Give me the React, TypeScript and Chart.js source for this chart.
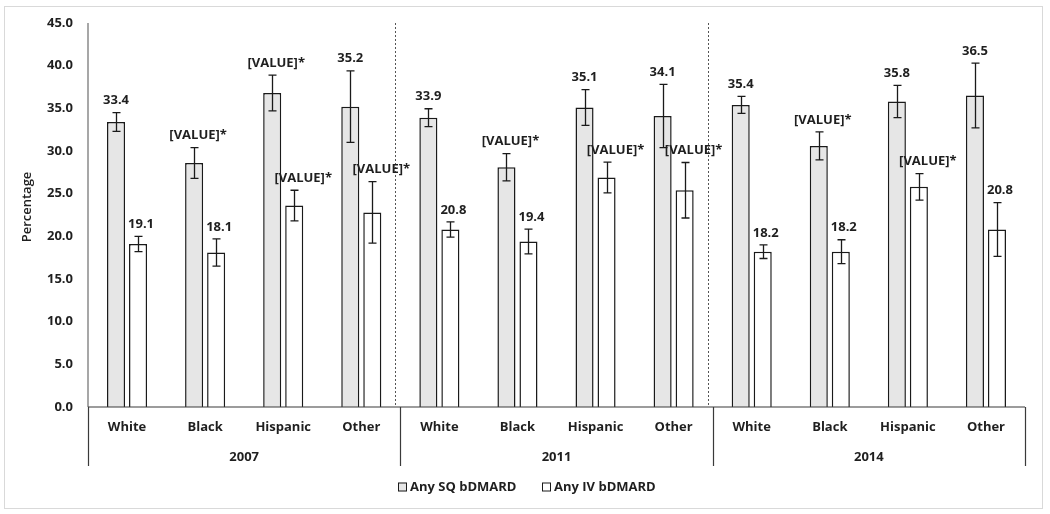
import React, { useEffect, useRef } from "react";
import { Chart, registerables } from "chart.js";
Chart.register(...registerables);

const years = ["2007", "2011", "2014"];
const groups = ["White", "Black", "Hispanic", "Other"];
const categories = years.flatMap((yr) => groups.map((g) => `${g} ${yr}`));

const seriesNames = ["Any SQ bDMARD", "Any IV bDMARD"];

const sqValues = [33.4, 28.6, 36.8, 35.2, 33.9, 28.1, 35.1, 34.1, 35.4, 30.6, 35.8, 36.5];
const ivValues = [19.1, 18.1, 23.6, 22.8, 20.8, 19.4, 26.9, 25.4, 18.2, 18.2, 25.8, 20.8];
const sqErrors = [1.1, 1.8, 2.1, 4.2, 1.05, 1.6, 2.1, 3.7, 1.0, 1.65, 1.9, 3.8];
const ivErrors = [0.9, 1.6, 1.8, 3.6, 0.9, 1.45, 1.8, 3.25, 0.8, 1.4, 1.55, 3.15];
const sqLabels = ["33.4", "[VALUE]*", "[VALUE]*", "35.2", "33.9", "[VALUE]*", "35.1", "34.1", "35.4", "[VALUE]*", "35.8", "36.5"];
const ivLabels = ["19.1", "18.1", "[VALUE]*", "[VALUE]*", "20.8", "19.4", "[VALUE]*", "[VALUE]*", "18.2", "18.2", "[VALUE]*", "20.8"];

const yTicks = [0, 5, 10, 15, 20, 25, 30, 35, 40, 45];
const yTitle = "Percentage";

const FONT = "'Open Sans', Lato, sans-serif";
const FSIZE = 13;
const TEXT = "#1f1f1f";
const SQ_FILL = "#e6e6e6";
const IV_FILL = "#ffffff";

const errorsBy = [sqErrors, ivErrors];
const labelsBy = [sqLabels, ivLabels];

const customPlugin = {
  id: "customDraw",
  beforeDraw(chart: any) {
    const ctx = chart.ctx;
    ctx.save();
    ctx.fillStyle = "#ffffff";
    ctx.fillRect(0, 0, chart.width, chart.height);
    ctx.strokeStyle = "#d9d9d9";
    ctx.lineWidth = 1;
    ctx.strokeRect(4.5, 6.5, 1038, 502);
    ctx.restore();
  },
  afterDatasetsDraw(chart: any) {
    const ctx = chart.ctx;
    const ca = chart.chartArea;
    const x = chart.scales.x;
    const y = chart.scales.y;
    const n = categories.length;
    const per = groups.length;
    const catW = (ca.right - ca.left) / n;
    const boundaries: number[] = [];
    for (let g = 0; g <= years.length; g++) boundaries.push(ca.left + g * per * catW);

    ctx.save();
    // dotted separators in plot
    ctx.strokeStyle = "#555555";
    ctx.lineWidth = 1;
    ctx.setLineDash([2, 2]);
    for (let g = 1; g < years.length; g++) {
      const bx = Math.round(boundaries[g] - 5) + 0.5;
      ctx.beginPath();
      ctx.moveTo(bx, ca.top);
      ctx.lineTo(bx, ca.bottom);
      ctx.stroke();
    }
    ctx.setLineDash([]);

    // error bars
    ctx.strokeStyle = "#1a1a1a";
    ctx.lineWidth = 1.3;
    chart.data.datasets.forEach((ds: any, di: number) => {
      const meta = chart.getDatasetMeta(di);
      meta.data.forEach((bar: any, i: number) => {
        const v = ds.data[i];
        const e = errorsBy[di][i];
        const yt = y.getPixelForValue(v + e);
        const yb = y.getPixelForValue(v - e);
        const bx = Math.round(bar.x) + 0.5;
        ctx.beginPath();
        ctx.moveTo(bx, yt);
        ctx.lineTo(bx, yb);
        ctx.moveTo(bx - 4, yt);
        ctx.lineTo(bx + 4, yt);
        ctx.moveTo(bx - 4, yb);
        ctx.lineTo(bx + 4, yb);
        ctx.stroke();
      });
    });

    // data labels
    ctx.fillStyle = TEXT;
    ctx.font = `bold ${FSIZE}px ${FONT}`;
    ctx.textAlign = "center";
    ctx.textBaseline = "middle";
    chart.data.datasets.forEach((ds: any, di: number) => {
      const meta = chart.getDatasetMeta(di);
      meta.data.forEach((bar: any, i: number) => {
        const v = ds.data[i];
        const e = errorsBy[di][i];
        const lbl = labelsBy[di][i];
        const isText = lbl.startsWith("[");
        const dx = di === 1 ? (isText ? 9 : 3) : isText ? 4 : 0;
        ctx.fillText(lbl, bar.x + dx, y.getPixelForValue(v + e) - 12);
      });
    });

    // axes
    ctx.strokeStyle = "#8a8a8a";
    ctx.lineWidth = 1.5;
    ctx.beginPath();
    ctx.moveTo(ca.left, ca.top);
    ctx.lineTo(ca.left, ca.bottom);
    ctx.stroke();

    ctx.strokeStyle = "#3a3a3a";
    ctx.lineWidth = 1.2;
    ctx.beginPath();
    ctx.moveTo(ca.left, ca.bottom);
    ctx.lineTo(ca.right, ca.bottom);
    ctx.stroke();
    boundaries.forEach((b) => {
      const bx = Math.round(b) + 0.5;
      ctx.beginPath();
      ctx.moveTo(bx, ca.bottom);
      ctx.lineTo(bx, ca.bottom + 59);
      ctx.stroke();
    });

    // category labels
    ctx.fillStyle = TEXT;
    ctx.font = `bold ${FSIZE}px ${FONT}`;
    ctx.textAlign = "center";
    categories.forEach((c, i) => {
      const cx = x.getPixelForValue(i);
      ctx.fillText(groups[i % per], cx, ca.bottom + 20);
    });
    years.forEach((yr, g) => {
      ctx.fillText(yr, (boundaries[g] + boundaries[g + 1]) / 2, ca.bottom + 50);
    });

    // legend
    const legendY = 487;
    const legendItems = [
      { x: 398, fill: SQ_FILL, text: seriesNames[0] },
      { x: 542, fill: IV_FILL, text: seriesNames[1] },
    ];
    ctx.textAlign = "left";
    legendItems.forEach((it) => {
      ctx.fillStyle = it.fill;
      ctx.fillRect(it.x, legendY - 4.5, 9, 9);
      ctx.strokeStyle = "#1a1a1a";
      ctx.lineWidth = 1;
      ctx.strokeRect(it.x + 0.5, legendY - 4, 8, 8);
      ctx.fillStyle = TEXT;
      ctx.fillText(it.text, it.x + 12, legendY);
    });

    // y title
    ctx.save();
    ctx.translate(27, 207);
    ctx.rotate(-Math.PI / 2);
    ctx.textAlign = "center";
    ctx.font = `600 ${FSIZE}px ${FONT}`;
    ctx.fillText(yTitle, 0, 0);
    ctx.restore();

    ctx.restore();
  },
};

export default function App() {
  const ref = useRef<HTMLCanvasElement | null>(null);
  useEffect(() => {
    if (!ref.current) return;
    const chart = new Chart(ref.current, {
      type: "bar",
      data: {
        labels: categories,
        datasets: [
          {
            label: seriesNames[0],
            data: sqValues,
            backgroundColor: SQ_FILL,
            borderColor: "#1a1a1a",
            borderWidth: 1.5,
            categoryPercentage: 0.564,
            barPercentage: 0.82,
          },
          {
            label: seriesNames[1],
            data: ivValues,
            backgroundColor: IV_FILL,
            borderColor: "#1a1a1a",
            borderWidth: 1.5,
            categoryPercentage: 0.564,
            barPercentage: 0.82,
          },
        ],
      },
      options: {
        responsive: false,
        animation: false,
        layout: { padding: { left: 0, right: 25, top: 23, bottom: 107 } },
        plugins: {
          legend: { display: false },
          tooltip: { enabled: false },
          title: { display: false },
        },
        scales: {
          x: { type: "category", display: false, offset: true },
          y: {
            min: 0,
            max: 45,
            afterFit: (s: any) => {
              s.width = 88;
            },
            afterBuildTicks: (s: any) => {
              s.ticks = yTicks.map((v) => ({ value: v }));
            },
            grid: { display: false, drawTicks: false },
            border: { display: false },
            ticks: {
              padding: 15,
              color: TEXT,
              font: { family: FONT, weight: "bold", size: FSIZE },
              callback: (v: any) => Number(v).toFixed(1),
            },
          },
        },
      },
      plugins: [customPlugin],
    });
    return () => chart.destroy();
  }, []);
  return (
    <canvas
      ref={ref}
      width={1050}
      height={514}
      style={{ position: "absolute", left: 0, top: 0, width: 1050, height: 514 }}
    />
  );
}
